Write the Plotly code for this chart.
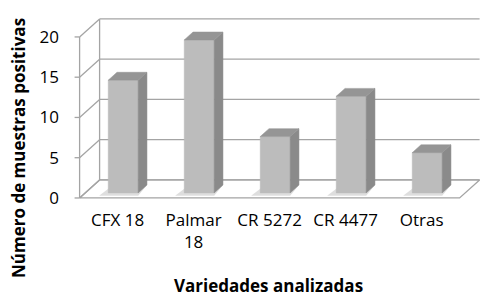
import plotly.graph_objects as go

# ---- data ----
categories = ["CFX 18", "Palmar<br>18", "CR 5272", "CR 4477", "Otras"]
values = [14, 19, 7, 12, 5]
y_ticks = [0, 5, 10, 15, 20]
y_title = "Número de muestras positivas"
x_title = "Variedades analizadas"

# ---- oblique 3D projection settings (in axis units) ----
DX, DY = 0.263, 2.236      # offset of the back plane relative to the front plane
F0, F1 = 0.28, 0.72        # depth of bar front / back faces
HW = 0.197                 # half width of a bar (category units)
YMAX = max(y_ticks)
N = len(categories)

LINE = "#a4a4a4"
LW = 1.3
FONT = "Open Sans"

fig = go.Figure()


def poly(xs, ys, fill=None, line=LINE, width=LW):
    fig.add_trace(go.Scatter(
        x=xs, y=ys, mode="lines",
        fill="toself" if fill else None,
        fillcolor=fill,
        line=dict(color=line, width=width),
        hoverinfo="skip", showlegend=False))


def seg(x0, y0, x1, y1, color=LINE, width=LW):
    fig.add_trace(go.Scatter(
        x=[x0, x1], y=[y0, y1], mode="lines",
        line=dict(color=color, width=width),
        hoverinfo="skip", showlegend=False))


# floor
poly([0, N, N + DX, DX, 0], [0, 0, DY, DY, 0], fill="white")

# back wall gridlines and left wall diagonals
for k in y_ticks:
    seg(DX, k + DY, N + DX, k + DY)
    seg(0, k, DX, k + DY)
    seg(-0.066, k, 0, k)          # tick marks
# left wall edges
seg(DX, DY, DX, YMAX + DY)
seg(0, 0, 0, YMAX)

# bars
for i, v in enumerate(values):
    xl = i + 0.5 - HW
    xr = i + 0.5 + HW
    # soft shadow on the floor
    poly([xl - 0.12 + F0 * DX, xr + F0 * DX, xr + F1 * DX, xl - 0.05 + F1 * DX],
         [F0 * DY - 0.35, F0 * DY - 0.35, F1 * DY, F1 * DY],
         fill="rgba(160,160,160,0.35)", line="rgba(0,0,0,0)", width=0)
    # front face
    poly([xl + F0 * DX, xr + F0 * DX, xr + F0 * DX, xl + F0 * DX, xl + F0 * DX],
         [F0 * DY, F0 * DY, v + F0 * DY, v + F0 * DY, F0 * DY],
         fill="#bcbcbc", line="#bcbcbc", width=0.5)
    # side face
    poly([xr + F0 * DX, xr + F1 * DX, xr + F1 * DX, xr + F0 * DX, xr + F0 * DX],
         [F0 * DY, F1 * DY, v + F1 * DY, v + F0 * DY, F0 * DY],
         fill="#8a8a8a", line="#8a8a8a", width=0.5)
    # top face
    poly([xl + F0 * DX, xr + F0 * DX, xr + F1 * DX, xl + F1 * DX, xl + F0 * DX],
         [v + F0 * DY, v + F0 * DY, v + F1 * DY, v + F1 * DY, v + F0 * DY],
         fill="#959595", line="#959595", width=0.5)

# the page body has an 8px default margin, so the figure is drawn 8px in
OFF = 8
W, H = 500 - OFF, 308 - OFF
L, T = 72 - OFF, 16 - OFF
pw, ph = 418, 186
R, B = W - L - pw, H - T - ph

fig.update_layout(
    width=W, height=H,
    autosize=False,
    showlegend=False,
    margin=dict(l=L, r=R, t=T, b=B, pad=0, autoexpand=False),
    paper_bgcolor="white", plot_bgcolor="white",
    font=dict(family=FONT, size=17, color="black"),
    xaxis=dict(range=[-0.1, 5.4], showgrid=False, zeroline=False, showline=False,
               automargin=False,
               tickmode="array", tickvals=[i + 0.5 for i in range(N)],
               ticktext=categories, ticks="", ticklabelstandoff=6,
               tickfont=dict(size=17, family=FONT, color="black"), fixedrange=True),
    yaxis=dict(range=[-0.5, 22.6], showgrid=False, zeroline=False, showline=False,
               automargin=False,
               tickmode="array", tickvals=y_ticks, ticks="", ticklabelstandoff=12,
               tickfont=dict(size=17, family=FONT, color="black"), fixedrange=True),
    annotations=[
        dict(text="<b>" + y_title + "</b>", textangle=-90, showarrow=False,
             xref="paper", yref="paper", x=(18 - 72) / pw, y=(202 - 148) / ph,
             xanchor="center", yanchor="middle",
             font=dict(size=17, family=FONT, color="black")),
        dict(text="<b>" + x_title + "</b>", showarrow=False,
             xref="paper", yref="paper", x=(268 - 72) / pw, y=(202 - 285) / ph,
             xanchor="center", yanchor="middle",
             font=dict(size=17, family=FONT, color="black")),
    ],
)

fig.write_html("out.html")
